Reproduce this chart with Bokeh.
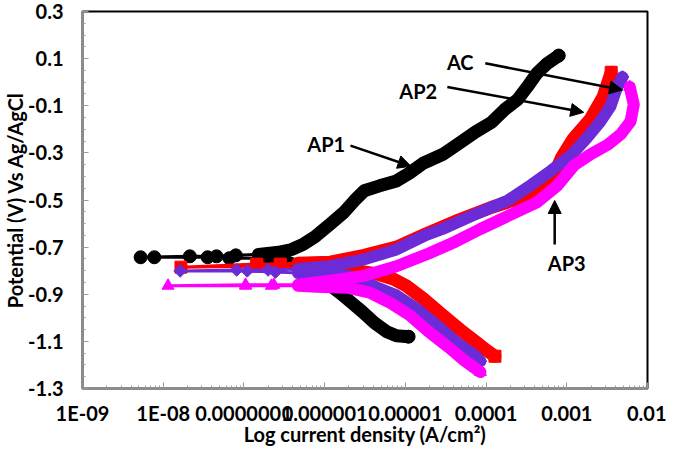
import numpy as np
from bokeh.plotting import figure
from bokeh.models import Range1d, FixedTicker, Label, Arrow, NormalHead
from bokeh.embed import file_html
from bokeh.resources import INLINE

# ---- data: log10 current density (A/cm2) and potential (V vs Ag/AgCl), in scan order ----
ap1_logi = [-4.96, -5.11, -5.23, -5.38, -5.54, -5.70, -5.80, -5.96, -6.15, -6.33, -6.51, -6.82, -7.18, -7.45, -8.11, -8.28,
            -7.67, -7.34, -7.10, -6.82, -6.57, -6.41, -6.27, -6.12, -5.93, -5.76, -5.63, -5.51, -5.32, -5.11, -4.95, -4.78,
            -4.54, -4.34, -4.13, -3.93, -3.77, -3.61, -3.49, -3.37, -3.24, -3.10]
ap1_e = [-1.080, -1.076, -1.059, -1.022, -0.972, -0.926, -0.897, -0.855, -0.814, -0.781, -0.756, -0.747, -0.747, -0.743, -0.743, -0.743,
         -0.739, -0.739, -0.735, -0.731, -0.722, -0.710, -0.689, -0.656, -0.602, -0.552, -0.502, -0.461, -0.440, -0.419, -0.386, -0.344,
         -0.307, -0.261, -0.211, -0.170, -0.116, -0.074, -0.020, 0.038, 0.080, 0.113]

ac_logi = [-3.89, -4.01, -4.13, -4.29, -4.54, -4.78, -4.99, -5.15, -5.35, -5.60, -5.84, -6.09, -6.33, -6.55, -6.84, -7.78,
           -6.84, -6.55, -6.33, -5.93, -5.51, -5.11, -4.74, -4.34, -3.93, -3.56, -3.32, -3.16, -3.07, -2.92, -2.71, -2.55, -2.45]
ac_e = [-1.163, -1.134, -1.101, -1.059, -0.988, -0.918, -0.864, -0.835, -0.814, -0.801, -0.793, -0.789, -0.785, -0.781, -0.781, -0.785,
        -0.772, -0.772, -0.768, -0.764, -0.735, -0.700, -0.643, -0.585, -0.531, -0.490, -0.448, -0.394, -0.323, -0.240, -0.157, -0.062, 0.042]

ap2_logi = [-4.07, -4.13, -4.38, -4.62, -4.87, -5.11, -5.32, -5.48, -5.72, -6.09, -6.33, -6.61, -6.96, -7.79,
            -7.09, -6.70, -6.33, -5.93, -5.51, -5.11, -4.74, -4.54, -4.13, -3.73, -3.44, -3.20, -2.95, -2.76, -2.59, -2.46, -2.39, -2.31]
ap2_e = [-1.184, -1.163, -1.101, -1.030, -0.959, -0.905, -0.876, -0.851, -0.822, -0.814, -0.810, -0.806, -0.801, -0.801,
         -0.797, -0.797, -0.793, -0.781, -0.752, -0.710, -0.648, -0.623, -0.560, -0.502, -0.436, -0.377, -0.311, -0.240, -0.170, -0.103, -0.033, 0.022]

ap3_logi = [-4.07, -4.26, -4.46, -4.71, -4.95, -5.20, -5.44, -5.72, -6.09, -6.33, -6.66, -6.98, -7.94,
            -6.98, -6.63, -6.33, -5.93, -5.51, -5.11, -4.71, -4.38, -4.07, -3.68, -3.37, -3.12, -2.91, -2.71, -2.49, -2.33, -2.21, -2.17, -2.22]
ap3_e = [-1.230, -1.184, -1.126, -1.059, -0.988, -0.934, -0.893, -0.872, -0.868, -0.864, -0.864, -0.864, -0.864,
         -0.860, -0.860, -0.860, -0.843, -0.822, -0.781, -0.727, -0.677, -0.623, -0.560, -0.510, -0.440, -0.353, -0.307, -0.265, -0.220, -0.166, -0.095, -0.020]

x_tick_values = [1e-9, 1e-8, 1e-7, 1e-6, 1e-5, 1e-4, 1e-3, 1e-2]
x_tick_labels = ["1E-09", "1E-08", "0.0000001", "0.000001", "0.00001", "0.0001", "0.001", "0.01"]
y_tick_values = [0.3, 0.1, -0.1, -0.3, -0.5, -0.7, -0.9, -1.1, -1.3]
y_tick_labels = ["0.3", "0.1", "-0.1", "-0.3", "-0.5", "-0.7", "-0.9", "-1.1", "-1.3"]

x_title = "Log current density (A/cm\u00b2)"
y_title = "Potential (V) Vs Ag/AgCl"

ann_labels = ["AP1", "AC", "AP2", "AP3"]
ann_label_logi = [-5.98, -4.32, -4.84, -3.00]
ann_label_e = [-0.261, 0.084, -0.037, -0.768]
arrow_tail_logi = [-5.68, -4.01, -4.48, -3.15]
arrow_tail_e = [-0.269, 0.080, -0.020, -0.689]
arrow_tip_logi = [-4.93, -2.31, -2.79, -3.15]
arrow_tip_e = [-0.357, -0.033, -0.128, -0.502]

FONT = "Lato"

p = figure(width=666, height=448, x_axis_type="log",
           x_range=Range1d(1e-9, 1e-2), y_range=Range1d(-1.3, 0.3),
           output_backend="svg", toolbar_location=None,
           min_border_left=74, min_border_right=19, min_border_top=11, min_border_bottom=58)
p.background_fill_color = "white"
p.border_fill_color = "white"
p.xgrid.visible = False
p.ygrid.visible = False
p.outline_line_color = "black"
p.outline_line_width = 2


def draw(logi, e, color, marker, size, thr, band, angle=0.0):
    x = [10 ** v for v in logi]
    runs_x, runs_y, cx, cy = [], [], [], []
    for xi, yi, li in zip(x, e, logi):
        if li >= thr:
            cx.append(xi)
            cy.append(yi)
        else:
            if len(cx) > 1:
                runs_x.append(cx)
                runs_y.append(cy)
            cx, cy = [], []
    if len(cx) > 1:
        runs_x.append(cx)
        runs_y.append(cy)
    p.multi_line(runs_x, runs_y, line_color=color, line_width=band,
                 line_join="round", line_cap="round")
    p.line(x, e, line_color=color, line_width=3)
    n = len(x)
    keep = [i for i in range(n) if logi[i] < thr or i in (0, n - 1)]
    p.scatter([x[i] for i in keep], [e[i] for i in keep], marker=marker, size=size,
              angle=angle, fill_color=color, line_color=color)


draw(ap1_logi, ap1_e, "#000000", "circle", 13, -7.0, 13)
draw(ac_logi, ac_e, "#FF0000", "square", 12, -6.5, 13)
draw(ap2_logi, ap2_e, "#6B2CD8", "square", 9, -6.4, 12, angle=np.pi / 4)
draw(ap3_logi, ap3_e, "#FF00FF", "triangle", 12, -6.4, 12)

for t, lx, ly in zip(ann_labels, ann_label_logi, ann_label_e):
    p.add_layout(Label(x=10 ** lx, y=ly, text=t, text_align="center", text_baseline="middle",
                       text_font=FONT, text_font_style="bold", text_font_size="20px",
                       text_color="black"))

for tx, ty, hx, hy in zip(arrow_tail_logi, arrow_tail_e, arrow_tip_logi, arrow_tip_e):
    p.add_layout(Arrow(end=NormalHead(size=13, fill_color="black", line_color="black"),
                       x_start=10 ** tx, y_start=ty, x_end=10 ** hx, y_end=hy,
                       line_color="black", line_width=2.5))

minor_x = [m * 10.0 ** k for k in range(-9, -2) for m in range(2, 10)]
p.xaxis.ticker = FixedTicker(ticks=x_tick_values, minor_ticks=minor_x)
p.xaxis.major_label_overrides = {v: s for v, s in zip(x_tick_values, x_tick_labels)}
minor_y = list(np.round(np.arange(-1.3, 0.3001, 0.05), 3))
p.yaxis.ticker = FixedTicker(ticks=y_tick_values, minor_ticks=minor_y)
p.yaxis.major_label_overrides = {v: s for v, s in zip(y_tick_values, y_tick_labels)}

p.xaxis.axis_label = x_title
p.yaxis.axis_label = y_title

for ax in (p.xaxis, p.yaxis):
    ax.axis_line_color = "#8c8c8c"
    ax.axis_line_width = 3
    ax.major_tick_in = 6
    ax.major_tick_out = 0
    ax.minor_tick_in = 3
    ax.minor_tick_out = 0
    ax.major_tick_line_color = "#9a9a9a"
    ax.minor_tick_line_color = "#9a9a9a"
    ax.major_label_text_font = FONT
    ax.major_label_text_font_style = "bold"
    ax.major_label_text_font_size = "20px"
    ax.major_label_text_color = "black"
    ax.major_label_text_line_height = 1.0
    ax.axis_label_text_font = FONT
    ax.axis_label_text_font_style = "bold"
    ax.axis_label_text_font_size = "20px"
    ax.axis_label_text_color = "black"
    ax.axis_label_text_line_height = 1.0

p.xaxis.major_label_standoff = 12
p.xaxis.axis_label_standoff = -6
p.yaxis.major_label_standoff = 19
p.yaxis.axis_label_standoff = -2

open("out.html", "w").write(file_html(p, INLINE))
